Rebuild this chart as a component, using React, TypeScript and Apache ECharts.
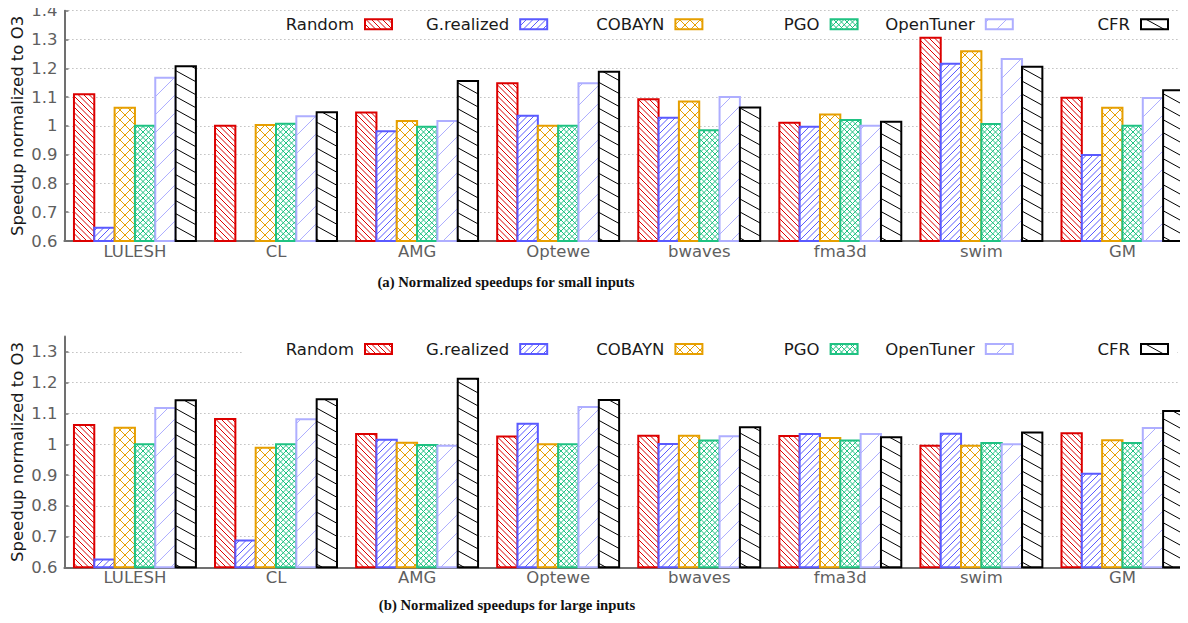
import React, { useEffect, useRef } from 'react';
import * as echarts from 'echarts';

const categories = ['LULESH', 'CL', 'AMG', 'Optewe', 'bwaves', 'fma3d', 'swim', 'GM'];
const seriesNames = ['Random', 'G.realized', 'COBAYN', 'PGO', 'OpenTuner', 'CFR'];

// (a) small inputs
const randomSmall = [1.11, 1.0, 1.046, 1.148, 1.092, 1.011, 1.306, 1.098];
const grealizedSmall = [0.646, null, 0.981, 1.035, 1.028, 0.997, 1.216, 0.899];
const cobaynSmall = [1.063, 1.003, 1.017, 1.0, 1.085, 1.039, 1.259, 1.063];
const pgoSmall = [1.0, 1.007, 0.997, 1.0, 0.985, 1.02, 1.006, 1.0];
const opentunerSmall = [1.167, 1.033, 1.017, 1.148, 1.1, 1.0, 1.232, 1.097];
const cfrSmall = [1.207, 1.047, 1.156, 1.188, 1.064, 1.014, 1.205, 1.124];

// (b) large inputs
const randomLarge = [1.063, 1.082, 1.033, 1.025, 1.028, 1.027, 0.995, 1.036];
const grealizedLarge = [0.625, 0.687, 1.015, 1.067, 1.001, 1.033, 1.034, 0.904];
const cobaynLarge = [1.054, 0.989, 1.005, 1.0, 1.028, 1.02, 0.995, 1.013];
const pgoLarge = [1.0, 1.0, 0.998, 1.0, 1.012, 1.012, 1.004, 1.004];
const opentunerLarge = [1.118, 1.081, 0.995, 1.121, 1.026, 1.033, 1.0, 1.053];
const cfrLarge = [1.143, 1.146, 1.213, 1.144, 1.055, 1.023, 1.038, 1.108];

const yRangeSmall = [0.6, 1.4];
const yRangeLarge = [0.6, 1.35];
const yTickValuesLarge = [0.6, 0.7, 0.8, 0.9, 1.0, 1.1, 1.2, 1.3];

const captions = ['(a) Normalized speedups for small inputs', '(b) Normalized speedups for large inputs'];
const yAxisName = 'Speedup normalized to O3';

const colors = ['#dc0000', '#5a5aff', '#e69f00', '#1fc282', '#aeaeff', '#000000'];
// hatch line families: s = screen slope (dy/dx), v = vertical spacing in px
const hatchFamilies = [
  [{ s: 1, v: 5.5 }],
  [{ s: -1, v: 6.5 }],
  [{ s: 1, v: 10 }, { s: -1, v: 10 }],
  [{ s: 1, v: 5.5 }, { s: -1, v: 5.5 }],
  [{ s: -1, v: 18 }],
  [{ s: 0.55, v: 13 }],
];

function hatchSegments(fams: { s: number; v: number }[], x0: number, y0: number, x1: number, y1: number) {
  const segs: number[][] = [];
  for (const f of fams) {
    const cs = [y0 - f.s * x0, y0 - f.s * x1, y1 - f.s * x0, y1 - f.s * x1];
    const cmin = Math.min(...cs);
    const cmax = Math.max(...cs);
    for (let k = Math.ceil(cmin / f.v); k <= Math.floor(cmax / f.v); k++) {
      const c = k * f.v;
      const xa = (y0 - c) / f.s;
      const xb = (y1 - c) / f.s;
      const xl = Math.max(x0, Math.min(xa, xb));
      const xr = Math.min(x1, Math.max(xa, xb));
      if (xr - xl > 0.3) segs.push([xl, f.s * xl + c, xr, f.s * xr + c]);
    }
  }
  return segs;
}

const FONT = '"DejaVu Sans", sans-serif';
const GRAY = '#5f5f5f';
const AXIS = '#707070';
const BAR_FRAC = 20.33 / 141.1;

export default function App() {
  const ref = useRef<HTMLDivElement>(null);
  useEffect(() => {
    if (!ref.current) return;
    const chart = echarts.init(ref.current, undefined, { renderer: 'svg' });
    const small = [randomSmall, grealizedSmall, cobaynSmall, pgoSmall, opentunerSmall, cfrSmall];
    const large = [randomLarge, grealizedLarge, cobaynLarge, pgoLarge, opentunerLarge, cfrLarge];

    const mkSeries = (vals: (number | null)[], i: number, g: number, yMin: number) => ({
      name: seriesNames[i],
      type: 'custom',
      xAxisIndex: g,
      yAxisIndex: g,
      encode: { x: 0, y: 1 },
      data: vals.map((v, idx) => [idx, v == null ? '-' : v]),
      renderItem: (params: any, api: any) => {
        const ci = api.value(0);
        const v = api.value(1);
        if (v == null || isNaN(v)) return null;
        const top = api.coord([ci, v]);
        const base = api.coord([ci, yMin]);
        const band = api.size([1, 0])[0];
        const bw = band * BAR_FRAC;
        const x0 = top[0] + (i - 3) * bw;
        const x1 = x0 + bw;
        const y0 = top[1];
        const y1 = base[1];
        const segs = hatchSegments(hatchFamilies[i], x0, y0, x1, y1);
        const pathData = segs.map((s) => `M${s[0].toFixed(2)},${s[1].toFixed(2)}L${s[2].toFixed(2)},${s[3].toFixed(2)}`).join('');
        const children: any[] = [
          { type: 'rect', shape: { x: x0, y: y0, width: bw, height: y1 - y0 }, style: { fill: '#ffffff' } },
        ];
        if (pathData) children.push({ type: 'path', shape: { pathData }, style: { stroke: colors[i], lineWidth: 1, fill: null } });
        children.push({ type: 'rect', shape: { x: x0, y: y0, width: bw, height: y1 - y0 }, style: { fill: 'none', stroke: colors[i], lineWidth: 2 } });
        return { type: 'group', children };
      },
    });

    const mkX = (g: number) => ({
      type: 'category',
      gridIndex: g,
      data: categories,
      axisLine: { show: true, lineStyle: { color: AXIS, width: 2 } },
      axisTick: { show: false },
      axisLabel: { interval: 0, margin: 2, color: GRAY, fontSize: 16.5, fontFamily: FONT },
      splitLine: { show: false },
    });

    const mkY = (g: number, range: number[]) => ({
      type: 'value',
      gridIndex: g,
      min: range[0],
      max: range[1],
      interval: 0.1,
      axisLine: { show: true, lineStyle: { color: AXIS, width: 2 } },
      axisTick: {
        show: true,
        inside: true,
        length: 4,
        lineStyle: { color: AXIS, width: 1.5 },
        ...(g === 1 ? { customValues: yTickValuesLarge } : {}),
      },
      axisLabel: {
        color: GRAY,
        fontSize: 16.5,
        fontFamily: FONT,
        margin: 7,
        formatter: (v: number) => String(Math.round(v * 100) / 100),
        ...(g === 1 ? { customValues: yTickValuesLarge } : {}),
      },
      splitLine: {
        show: true,
        lineStyle: { color: '#a0a0a0', type: [1, 3], width: 1 },
      },
    });

    // legend drawn as graphic elements (text + hatched key box)
    const legendGraphics: any[] = [];
    const addLegend = (cy: number, withBg: boolean) => {
      if (withBg) {
        legendGraphics.push({ type: 'rect', z: 100, shape: { x: 244, y: cy - 9, width: 933, height: 18 }, style: { fill: '#ffffff' } });
      }
      seriesNames.forEach((name, i) => {
        const bx = 365 + 155.2 * i;
        const by = cy - 5;
        legendGraphics.push({
          type: 'text', z: 101, x: bx - 11, y: cy,
          style: { text: name, align: 'right', verticalAlign: 'middle', fontSize: 16.5, fontFamily: FONT, fill: '#1a1a1a' },
        });
        legendGraphics.push({ type: 'rect', z: 101, shape: { x: bx, y: by, width: 27, height: 10 }, style: { fill: '#ffffff' } });
        hatchSegments(hatchFamilies[i], bx, by, bx + 27, by + 10).forEach((s) => {
          legendGraphics.push({ type: 'line', z: 102, shape: { x1: s[0], y1: s[1], x2: s[2], y2: s[3] }, style: { stroke: colors[i], lineWidth: 1 } });
        });
        legendGraphics.push({ type: 'rect', z: 103, shape: { x: bx, y: by, width: 27, height: 10 }, style: { fill: 'none', stroke: colors[i], lineWidth: 2 } });
      });
    };
    addLegend(24.3, false);
    addLegend(349, true);

    const axisNameText = (cy: number) => ({
      type: 'text', z: 100, x: 17, y: cy, rotation: Math.PI / 2,
      style: { text: yAxisName, align: 'center', verticalAlign: 'middle', fontSize: 16.5, fontFamily: FONT, fill: '#1a1a1a' },
    });

    chart.setOption({
      animation: false,
      backgroundColor: '#ffffff',
      tooltip: { show: false },
      grid: [
        { left: 64.4, right: -5, top: 10.7, height: 230.3, containLabel: false, outerBoundsMode: 'none' },
        { left: 64.4, right: -5, top: 336.6, height: 230.7, containLabel: false, outerBoundsMode: 'none' },
      ],
      xAxis: [mkX(0), mkX(1)],
      yAxis: [mkY(0, yRangeSmall), mkY(1, yRangeLarge)],
      series: [
        ...small.map((d, i) => mkSeries(d, i, 0, yRangeSmall[0])),
        ...large.map((d, i) => mkSeries(d, i, 1, yRangeLarge[0])),
      ],
      graphic: [
        ...legendGraphics,
        axisNameText(125.9),
        axisNameText(452),
        {
          type: 'text', z: 100, x: 506, y: 282,
          style: { text: captions[0], align: 'center', verticalAlign: 'middle', fontSize: 14.7, fontWeight: 'bold', fontFamily: '"Liberation Serif", serif', fill: '#111111' },
        },
        {
          type: 'text', z: 100, x: 507, y: 605,
          style: { text: captions[1], align: 'center', verticalAlign: 'middle', fontSize: 14.7, fontWeight: 'bold', fontFamily: '"Liberation Serif", serif', fill: '#111111' },
        },
      ],
    });
    return () => chart.dispose();
  }, []);
  return <div ref={ref} style={{ position: 'relative', left: -8, top: -8, width: 1188, height: 623 }} />;
}
